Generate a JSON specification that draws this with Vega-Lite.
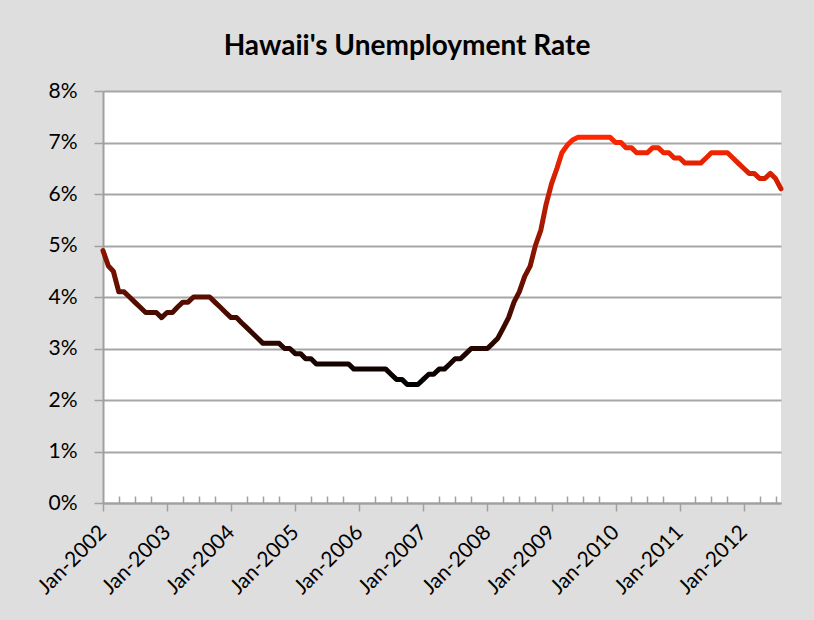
{
  "$schema": "https://vega.github.io/schema/vega-lite/v6.json",
  "width": 678,
  "height": 412,
  "autosize": {"type": "none"},
  "padding": {"left": 103, "top": 91, "right": 33, "bottom": 117},
  "background": "#dedede",
  "title": {
    "text": "Hawaii's Unemployment Rate",
    "font": "Lato",
    "fontSize": 28,
    "fontWeight": "bold",
    "color": "#000000",
    "anchor": "middle",
    "dx": -35,
    "offset": 19
  },
  "config": {
    "view": {"fill": "#ffffff", "stroke": null},
    "axis": {"labelFont": "Lato", "labelColor": "#000000"}
  },
  "data": {
    "values": [
      {"date": "2002/01/01", "rate": 4.9}, {"date": "2002/02/01", "rate": 4.6}, {"date": "2002/03/01", "rate": 4.5}, {"date": "2002/04/01", "rate": 4.1}, {"date": "2002/05/01", "rate": 4.1}, {"date": "2002/06/01", "rate": 4.0}, {"date": "2002/07/01", "rate": 3.9}, {"date": "2002/08/01", "rate": 3.8}, {"date": "2002/09/01", "rate": 3.7}, {"date": "2002/10/01", "rate": 3.7}, {"date": "2002/11/01", "rate": 3.7}, {"date": "2002/12/01", "rate": 3.6},
      {"date": "2003/01/01", "rate": 3.7}, {"date": "2003/02/01", "rate": 3.7}, {"date": "2003/03/01", "rate": 3.8}, {"date": "2003/04/01", "rate": 3.9}, {"date": "2003/05/01", "rate": 3.9}, {"date": "2003/06/01", "rate": 4.0}, {"date": "2003/07/01", "rate": 4.0}, {"date": "2003/08/01", "rate": 4.0}, {"date": "2003/09/01", "rate": 4.0}, {"date": "2003/10/01", "rate": 3.9}, {"date": "2003/11/01", "rate": 3.8}, {"date": "2003/12/01", "rate": 3.7},
      {"date": "2004/01/01", "rate": 3.6}, {"date": "2004/02/01", "rate": 3.6}, {"date": "2004/03/01", "rate": 3.5}, {"date": "2004/04/01", "rate": 3.4}, {"date": "2004/05/01", "rate": 3.3}, {"date": "2004/06/01", "rate": 3.2}, {"date": "2004/07/01", "rate": 3.1}, {"date": "2004/08/01", "rate": 3.1}, {"date": "2004/09/01", "rate": 3.1}, {"date": "2004/10/01", "rate": 3.1}, {"date": "2004/11/01", "rate": 3.0}, {"date": "2004/12/01", "rate": 3.0},
      {"date": "2005/01/01", "rate": 2.9}, {"date": "2005/02/01", "rate": 2.9}, {"date": "2005/03/01", "rate": 2.8}, {"date": "2005/04/01", "rate": 2.8}, {"date": "2005/05/01", "rate": 2.7}, {"date": "2005/06/01", "rate": 2.7}, {"date": "2005/07/01", "rate": 2.7}, {"date": "2005/08/01", "rate": 2.7}, {"date": "2005/09/01", "rate": 2.7}, {"date": "2005/10/01", "rate": 2.7}, {"date": "2005/11/01", "rate": 2.7}, {"date": "2005/12/01", "rate": 2.6},
      {"date": "2006/01/01", "rate": 2.6}, {"date": "2006/02/01", "rate": 2.6}, {"date": "2006/03/01", "rate": 2.6}, {"date": "2006/04/01", "rate": 2.6}, {"date": "2006/05/01", "rate": 2.6}, {"date": "2006/06/01", "rate": 2.6}, {"date": "2006/07/01", "rate": 2.5}, {"date": "2006/08/01", "rate": 2.4}, {"date": "2006/09/01", "rate": 2.4}, {"date": "2006/10/01", "rate": 2.3}, {"date": "2006/11/01", "rate": 2.3}, {"date": "2006/12/01", "rate": 2.3},
      {"date": "2007/01/01", "rate": 2.4}, {"date": "2007/02/01", "rate": 2.5}, {"date": "2007/03/01", "rate": 2.5}, {"date": "2007/04/01", "rate": 2.6}, {"date": "2007/05/01", "rate": 2.6}, {"date": "2007/06/01", "rate": 2.7}, {"date": "2007/07/01", "rate": 2.8}, {"date": "2007/08/01", "rate": 2.8}, {"date": "2007/09/01", "rate": 2.9}, {"date": "2007/10/01", "rate": 3.0}, {"date": "2007/11/01", "rate": 3.0}, {"date": "2007/12/01", "rate": 3.0},
      {"date": "2008/01/01", "rate": 3.0}, {"date": "2008/02/01", "rate": 3.1}, {"date": "2008/03/01", "rate": 3.2}, {"date": "2008/04/01", "rate": 3.4}, {"date": "2008/05/01", "rate": 3.6}, {"date": "2008/06/01", "rate": 3.9}, {"date": "2008/07/01", "rate": 4.1}, {"date": "2008/08/01", "rate": 4.4}, {"date": "2008/09/01", "rate": 4.6}, {"date": "2008/10/01", "rate": 5.0}, {"date": "2008/11/01", "rate": 5.3}, {"date": "2008/12/01", "rate": 5.8},
      {"date": "2009/01/01", "rate": 6.2}, {"date": "2009/02/01", "rate": 6.5}, {"date": "2009/03/01", "rate": 6.8}, {"date": "2009/04/01", "rate": 6.95}, {"date": "2009/05/01", "rate": 7.05}, {"date": "2009/06/01", "rate": 7.1}, {"date": "2009/07/01", "rate": 7.1}, {"date": "2009/08/01", "rate": 7.1}, {"date": "2009/09/01", "rate": 7.1}, {"date": "2009/10/01", "rate": 7.1}, {"date": "2009/11/01", "rate": 7.1}, {"date": "2009/12/01", "rate": 7.1},
      {"date": "2010/01/01", "rate": 7.0}, {"date": "2010/02/01", "rate": 7.0}, {"date": "2010/03/01", "rate": 6.9}, {"date": "2010/04/01", "rate": 6.9}, {"date": "2010/05/01", "rate": 6.8}, {"date": "2010/06/01", "rate": 6.8}, {"date": "2010/07/01", "rate": 6.8}, {"date": "2010/08/01", "rate": 6.9}, {"date": "2010/09/01", "rate": 6.9}, {"date": "2010/10/01", "rate": 6.8}, {"date": "2010/11/01", "rate": 6.8}, {"date": "2010/12/01", "rate": 6.7},
      {"date": "2011/01/01", "rate": 6.7}, {"date": "2011/02/01", "rate": 6.6}, {"date": "2011/03/01", "rate": 6.6}, {"date": "2011/04/01", "rate": 6.6}, {"date": "2011/05/01", "rate": 6.6}, {"date": "2011/06/01", "rate": 6.7}, {"date": "2011/07/01", "rate": 6.8}, {"date": "2011/08/01", "rate": 6.8}, {"date": "2011/09/01", "rate": 6.8}, {"date": "2011/10/01", "rate": 6.8}, {"date": "2011/11/01", "rate": 6.7}, {"date": "2011/12/01", "rate": 6.6},
      {"date": "2012/01/01", "rate": 6.5}, {"date": "2012/02/01", "rate": 6.4}, {"date": "2012/03/01", "rate": 6.4}, {"date": "2012/04/01", "rate": 6.3}, {"date": "2012/05/01", "rate": 6.3}, {"date": "2012/06/01", "rate": 6.4}, {"date": "2012/07/01", "rate": 6.3}, {"date": "2012/08/01", "rate": 6.1}
    ]
  },
  "resolve": {"axis": {"x": "independent"}},
  "layer": [
    {
      "mark": {"type": "line", "strokeOpacity": 0, "clip": true},
      "encoding": {
        "x": {
          "field": "date", "type": "temporal",
          "scale": {"domain": [{"year": 2002, "month": 1, "date": 1}, {"year": 2012, "month": 8, "date": 1}]},
          "axis": {
            "orient": "bottom", "title": null, "labels": false, "grid": false,
            "domain": false, "tickColor": "#a0a0a0", "tickWidth": 1.5, "tickSize": -7,
            "values": [
              {"year": 2002, "month": 4, "date": 1}, {"year": 2002, "month": 7, "date": 1}, {"year": 2002, "month": 10, "date": 1},
              {"year": 2003, "month": 4, "date": 1}, {"year": 2003, "month": 7, "date": 1}, {"year": 2003, "month": 10, "date": 1},
              {"year": 2004, "month": 4, "date": 1}, {"year": 2004, "month": 7, "date": 1}, {"year": 2004, "month": 10, "date": 1},
              {"year": 2005, "month": 4, "date": 1}, {"year": 2005, "month": 7, "date": 1}, {"year": 2005, "month": 10, "date": 1},
              {"year": 2006, "month": 4, "date": 1}, {"year": 2006, "month": 7, "date": 1}, {"year": 2006, "month": 10, "date": 1},
              {"year": 2007, "month": 4, "date": 1}, {"year": 2007, "month": 7, "date": 1}, {"year": 2007, "month": 10, "date": 1},
              {"year": 2008, "month": 4, "date": 1}, {"year": 2008, "month": 7, "date": 1}, {"year": 2008, "month": 10, "date": 1},
              {"year": 2009, "month": 4, "date": 1}, {"year": 2009, "month": 7, "date": 1}, {"year": 2009, "month": 10, "date": 1},
              {"year": 2010, "month": 4, "date": 1}, {"year": 2010, "month": 7, "date": 1}, {"year": 2010, "month": 10, "date": 1},
              {"year": 2011, "month": 4, "date": 1}, {"year": 2011, "month": 7, "date": 1}, {"year": 2011, "month": 10, "date": 1},
              {"year": 2012, "month": 4, "date": 1}, {"year": 2012, "month": 7, "date": 1}
            ]
          }
        },
        "y": {"field": "rate", "type": "quantitative"}
      }
    },
    {
      "mark": {
        "type": "line",
        "strokeWidth": 5,
        "strokeCap": "round",
        "strokeJoin": "round",
        "stroke": {
          "gradient": "linear",
          "x1": 0, "y1": 0, "x2": 0, "y2": 1,
          "stops": [
            {"offset": 0, "color": "#ff2600"},
            {"offset": 1, "color": "#000000"}
          ]
        }
      },
      "encoding": {
        "x": {
          "field": "date", "type": "temporal",
          "scale": {"domain": [{"year": 2002, "month": 1, "date": 1}, {"year": 2012, "month": 8, "date": 1}]},
          "axis": {
            "orient": "bottom", "title": null, "grid": false,
            "domainColor": "#a0a0a0", "domainWidth": 2,
            "tickColor": "#a0a0a0", "tickWidth": 1.5, "tickSize": 8,
            "format": "%b-%Y", "labelAngle": -45, "labelAlign": "right", "labelBaseline": "middle",
            "labelFontSize": 21, "labelPadding": 18, "labelOverlap": false,
            "values": [
              {"year": 2002, "month": 1, "date": 1}, {"year": 2003, "month": 1, "date": 1}, {"year": 2004, "month": 1, "date": 1},
              {"year": 2005, "month": 1, "date": 1}, {"year": 2006, "month": 1, "date": 1}, {"year": 2007, "month": 1, "date": 1},
              {"year": 2008, "month": 1, "date": 1}, {"year": 2009, "month": 1, "date": 1}, {"year": 2010, "month": 1, "date": 1},
              {"year": 2011, "month": 1, "date": 1}, {"year": 2012, "month": 1, "date": 1}
            ]
          }
        },
        "y": {
          "field": "rate", "type": "quantitative",
          "scale": {"domain": [0, 8], "nice": false},
          "axis": {
            "title": null, "values": [0, 1, 2, 3, 4, 5, 6, 7, 8],
            "labelExpr": "datum.value + '%'",
            "labelFontSize": 21, "labelPadding": 17,
            "grid": true, "gridColor": "#a6a6a6", "gridWidth": 2,
            "domainColor": "#a0a0a0", "domainWidth": 2,
            "tickColor": "#a0a0a0", "tickWidth": 1.5, "tickSize": 9
          }
        }
      }
    }
  ]
}
